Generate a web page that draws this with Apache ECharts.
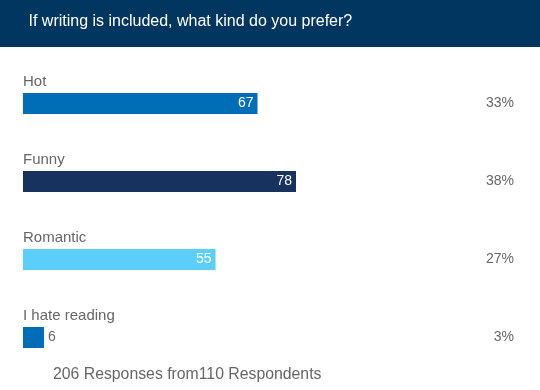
<!DOCTYPE html>
<html>
<head>
<meta charset="utf-8">
<script src="https://cdn.jsdelivr.net/npm/echarts@6/dist/echarts.min.js"></script>
<style>
html,body{margin:0;padding:0;background:#fff;}
#chart{width:540px;height:390px;}
</style>
</head>
<body>
<div id="chart"></div>
<script>
var categories = ['Hot', 'Funny', 'Romantic', 'I hate reading'];
var responses = [67, 78, 55, 6];
var percents = ['33%', '38%', '27%', '3%'];
var barColors = ['#006EB6', '#17325F', '#5BCEFA', '#006EB6'];
var titleText = 'If writing is included, what kind do you prefer?';
var footerText = '206 Responses from110 Respondents';

var chart = echarts.init(document.getElementById('chart'), null, {renderer: 'canvas'});
var fontFam = 'Liberation Sans, Arial, sans-serif';

var mainData = responses.map(function (v, i) {
  var inside = v >= 10;
  return {
    value: v,
    itemStyle: {color: barColors[i]},
    label: {
      show: true,
      position: inside ? 'insideRight' : 'right',
      distance: 4,
      color: inside ? '#ffffff' : '#666666',
      fontSize: 14,
      fontFamily: fontFam
    }
  };
});

var option = {
  animation: false,
  backgroundColor: '#ffffff',
  graphic: [
    {type: 'rect', left: 0, top: 0, shape: {width: 540, height: 47}, style: {fill: '#00365F'}, z: 0},
    {type: 'text', x: 28.5, y: 21.5, style: {text: titleText, fill: '#ffffff', font: '16px ' + fontFam, textVerticalAlign: 'middle'}, z: 1},
    {type: 'text', x: 53, y: 374.5, style: {text: footerText, fill: '#666666', font: '15.8px ' + fontFam, textVerticalAlign: 'middle'}, z: 1}
  ],
  grid: {left: 23, top: 64.5, width: 350, height: 312, containLabel: false},
  xAxis: {type: 'value', min: 0, max: 100, show: false},
  yAxis: [
    {type: 'category', data: categories, inverse: true, show: false},
    {
      type: 'category', data: percents, inverse: true, position: 'right',
      axisLine: {show: false}, axisTick: {show: false}, splitLine: {show: false},
      axisLabel: {show: true, margin: 141, align: 'right', color: '#666666', fontSize: 14, fontFamily: fontFam}
    }
  ],
  series: [
    {
      type: 'bar', yAxisIndex: 0, barWidth: 21, data: mainData, z: 3
    },
    {
      type: 'bar', yAxisIndex: 0, barWidth: 21, barGap: '-100%', z: 2,
      itemStyle: {color: 'rgba(0,0,0,0)'},
      data: responses.slice(),
      label: {
        show: true, position: [0, -11.5], align: 'left', verticalAlign: 'middle',
        formatter: function (p) { return categories[p.dataIndex]; },
        color: '#666666', fontSize: 15, fontFamily: fontFam
      }
    }
  ]
};
chart.setOption(option);
</script>
</body>
</html>
